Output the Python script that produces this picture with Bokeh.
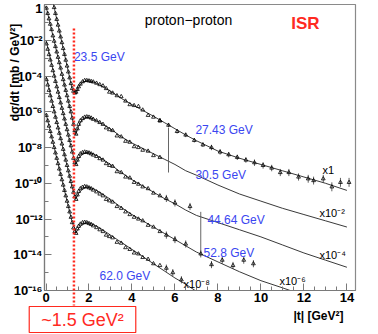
import math
from bokeh.plotting import figure
from bokeh.models import (Label, FixedTicker, SingleIntervalTicker,
                          CustomJSTickFormatter, Range1d)
from bokeh.embed import file_html
from bokeh.resources import INLINE

# ---------------- data (log10 of dsigma/dt in mb/GeV^2, already scaled) ----------------
t_grid = [0.02, 0.08, 0.14, 0.20, 0.26, 0.32, 0.38, 0.44, 0.50, 0.56, 0.62, 0.68, 0.74, 0.80,
          0.86, 0.92, 0.98, 1.04, 1.10, 1.16, 1.22, 1.28, 1.34,
          1.40, 1.46, 1.52, 1.60, 1.70, 1.80, 1.90, 2.00, 2.10, 2.20, 2.35, 2.50, 2.65, 2.80,
          2.95, 3.10, 3.30, 3.50, 3.70, 3.90, 4.10, 4.30, 4.50, 4.75, 5.00, 5.30]

ds_23_5 = [1.79, 1.46, 1.14, 0.81, 0.48, 0.16, -0.17, -0.50, -0.83, -1.15, -1.48, -1.81, -2.13,
           -2.46, -2.79, -3.11, -3.44, -3.77, -4.10, -4.42, -4.70, -4.85, -4.95,
           -4.90, -4.75, -4.60, -4.45, -4.32, -4.25, -4.25, -4.27, -4.30, -4.33, -4.40, -4.48,
           -4.55, -4.70, -4.90, -4.95, -5.10, -5.15, -5.40, -5.60, -5.65, -5.70, -5.90, -6.20,
           -6.30, -6.50]
ds_30_5 = [-0.20, -0.50, -0.80, -1.10, -1.40, -1.75, -2.05, -2.35, -2.65, -2.95, -3.25, -3.55,
           -3.90, -4.20, -4.50, -4.80, -5.10, -5.40, -5.70, -6.00, -6.35, -6.70, -7.05,
           -7.25, -6.95, -6.70, -6.50, -6.38, -6.30, -6.28, -6.30, -6.35, -6.42, -6.50, -6.60,
           -6.70, -6.90, -7.00, -7.05, -7.35, -7.40, -7.65, -7.70, -7.95, -8.00, -8.15, -8.20,
           -8.45, -8.55]
ds_44_64 = [-2.20, -2.50, -2.80, -3.10, -3.40, -3.70, -4.00, -4.30, -4.60, -4.90, -5.20, -5.50,
            -5.80, -6.10, -6.40, -6.70, -7.00, -7.30, -7.60, -7.90, -8.25, -8.60, -8.85,
            -8.95, -8.70, -8.50, -8.35, -8.28, -8.25, -8.27, -8.30, -8.35, -8.42, -8.50, -8.62,
            -8.70, -8.90, -9.00, -9.05, -9.35, -9.40, -9.65, -9.70, -9.95, -10.05, -10.20,
            -10.30, -10.55, -10.70]
ds_52_8 = [-4.20, -4.50, -4.80, -5.10, -5.40, -5.70, -6.00, -6.30, -6.60, -6.90, -7.20, -7.50,
           -7.80, -8.10, -8.40, -8.70, -9.00, -9.30, -9.60, -9.90, -10.20, -10.50, -10.75,
           -10.90, -10.65, -10.45, -10.30, -10.22, -10.18, -10.20, -10.25, -10.30, -10.38,
           -10.48, -10.60, -10.70, -10.90, -10.98, -11.05, -11.30, -11.40, -11.60, -11.75,
           -11.90, -12.00, -12.10, -12.35, -12.45, -12.70]
ds_62_0 = [-6.20, -6.50, -6.80, -7.10, -7.40, -7.70, -8.00, -8.30, -8.60, -8.90, -9.20, -9.50,
           -9.80, -10.10, -10.40, -10.70, -11.00, -11.30, -11.60, -11.90, -12.20, -12.50, -12.70,
           -12.80, -12.55, -12.40, -12.28, -12.20, -12.18, -12.20, -12.25, -12.30, -12.38,
           -12.48, -12.60, -12.70, -12.90, -12.98, -13.05, -13.30, -13.35, -13.60, -13.70,
           -13.90, -13.95, -14.15, -14.25, -14.50, -14.60]

# large |t| data (27.43 GeV, x1)
t_27 = [5.3, 5.7, 6.1, 6.5, 6.9, 7.3, 7.7, 8.1, 8.5, 8.9, 9.3, 9.7, 10.1, 10.5, 10.9, 11.3,
        11.75, 12.2, 12.45, 12.9, 13.3, 13.7, 14.1]
ds_27_43 = [-6.50, -6.75, -7.10, -7.30, -7.60, -7.85, -8.00, -8.25, -8.40, -8.55, -8.70, -8.85,
            -9.00, -9.15, -9.40, -9.40, -9.65, -9.75, -9.85, -9.75, -10.20, -9.95, -9.95]
err_27 = [0.10, 0.12, 0.12, 0.12, 0.12, 0.12, 0.15, 0.15, 0.15, 0.15, 0.15, 0.18, 0.18, 0.18,
          0.20, 0.20, 0.20, 0.22, 0.22, 0.22, 0.25, 0.25, 0.25]

# tails with error bars
t_tail_44 = [5.6, 6.0, 6.7]
ds_tail_44 = [-10.85, -11.10, -11.30]
t_tail_52 = [5.6, 6.0, 6.5, 7.2, 7.7, 8.2, 8.7, 9.2, 9.65]
ds_tail_52 = [-12.90, -13.15, -13.40, -13.95, -14.55, -14.30, -14.60, -14.30, -14.50]
t_tail_62 = [5.6, 5.9, 6.3]
ds_tail_62 = [-14.75, -15.00, -15.40]
err_tail = 0.2
# long error bars
t_long = [5.7, 7.2]
long_lo = [-9.40, -14.00]
long_hi = [-6.90, -11.60]

# theory curves (log10, scaled)
c_t = [0, 0.4, 0.8, 1.2, 1.3, 1.38, 1.5, 1.65, 1.9, 2.2, 2.5, 3, 3.5, 4, 4.5, 5, 5.5, 6, 6.5,
       7, 8, 9, 10, 11, 12, 13, 14.0]
c_23_5 = [1.9, -0.28, -2.46, -4.64, -4.9, -5.0, -4.65, -4.4, -4.25, -4.32, -4.5, -4.85, -5.25,
          -5.6, -5.92, -6.25, -6.6, -6.95, -7.3, -7.62, -8.2, -8.6, -8.95, -9.3, -9.65, -10.0,
          -10.4]
c_30_5 = [-0.1, -2.15, -4.2, -6.25, -6.85, -7.3, -6.85, -6.5, -6.3, -6.4, -6.6, -6.95, -7.4,
          -7.75, -8.05, -8.35, -8.65, -8.95, -9.3, -9.55, -10.1, -10.6, -11.0, -11.4, -11.75,
          -12.1, -12.45]
c_44_64 = [-2.0, -4.05, -6.1, -8.15, -8.6, -8.95, -8.65, -8.42, -8.27, -8.35, -8.55, -8.95,
           -9.4, -9.8, -10.15, -10.5, -10.85, -11.15, -11.5, -11.8, -12.2, -12.6, -13.0,
           -13.45, -13.9, -14.3, -14.7]
c4_t = [0, 0.4, 0.8, 1.2, 1.3, 1.38, 1.5, 1.65, 1.9, 2.2, 2.5, 3, 3.5, 4, 4.5, 5, 5.5, 6, 6.5,
        7, 8, 9, 10, 11, 11.6]
c_52_8 = [-4.0, -6.05, -8.1, -10.15, -10.55, -10.9, -10.6, -10.38, -10.2, -10.3, -10.5, -10.9,
          -11.35, -11.75, -12.1, -12.45, -12.8, -13.15, -13.5, -13.85, -14.4, -14.95, -15.45,
          -15.85, -16.1]
c5_t = [0, 0.4, 0.8, 1.2, 1.3, 1.38, 1.5, 1.65, 1.9, 2.2, 2.5, 3, 3.5, 4, 4.5, 5, 5.5, 6, 6.5,
        7.0]
c_62_0 = [-6.1, -8.1, -10.1, -12.1, -12.45, -12.8, -12.55, -12.35, -12.2, -12.3, -12.5, -12.9,
          -13.3, -13.7, -14.1, -14.5, -14.9, -15.3, -15.65, -16.05]

dip_t = 1.3  # position of the red marker line (|t| in GeV^2)

# labels
energy_labels = ["23.5 GeV", "27.43 GeV", "30.5 GeV", "44.64 GeV", "52.8 GeV", "62.0 GeV"]
scale_labels = ["x1", "x10\u207b\u00b2", "x10\u207b\u2074", "x10\u207b\u2076", "x10\u207b\u2078"]


def pw(v):
    return [10.0 ** x for x in v]


FONT = "Liberation Sans"
BLUE = "#3a46f0"
RED = "#ff2a1f"

W, H = 370, 334
BL, BR, BT, BB = 44, 15, 4, 44
X0, X1 = -0.07, 14.4

p = figure(width=W, height=H, x_range=Range1d(X0, X1), y_range=Range1d(1e-16, 1.0),
           y_axis_type="log", output_backend="svg", toolbar_location=None,
           min_border_left=BL, min_border_right=BR, min_border_top=BT, min_border_bottom=BB)
p.grid.visible = False
p.outline_line_color = "#8a8a8a"
p.outline_line_width = 1.2
p.background_fill_color = "white"
p.border_fill_color = "white"

# axes
p.xaxis.ticker = SingleIntervalTicker(interval=2, num_minor_ticks=4)
p.yaxis.ticker = FixedTicker(ticks=[10.0 ** (-k) for k in range(0, 17, 2)],
                             minor_ticks=[10.0 ** (-k) for k in range(1, 17, 2)])
p.yaxis.formatter = CustomJSTickFormatter(code="""
const e = Math.round(Math.log10(tick));
if (e === 0) { return "1"; }
const sup = {"-": "\\u207b", "0": "\\u2070", "1": "\\u00b9", "2": "\\u00b2", "3": "\\u00b3",
             "4": "\\u2074", "5": "\\u2075", "6": "\\u2076", "7": "\\u2077", "8": "\\u2078", "9": "\\u2079"};
let s = "";
for (const c of String(e)) { s += sup[c]; }
return "10" + s;
""")
for ax in (p.xaxis, p.yaxis):
    ax.axis_line_color = "#7a7a7a"
    ax.axis_line_width = 1.2
    ax.major_tick_line_color = "#7a7a7a"
    ax.minor_tick_line_color = "#7a7a7a"
    ax.major_tick_in = 7
    ax.major_tick_out = 0
    ax.minor_tick_in = 4
    ax.minor_tick_out = 0
    ax.major_label_text_font = FONT
    ax.major_label_text_font_style = "bold"
    ax.major_label_text_font_size = "13px"
    ax.major_label_text_color = "black"
p.yaxis.major_label_standoff = 2
p.xaxis.major_label_standoff = 2

# theory curves
line_kw = dict(line_color="#222222", line_width=0.9)
p.line(c_t, pw(c_23_5), **line_kw)
p.line(c_t, pw(c_30_5), **line_kw)
p.line(c_t, pw(c_44_64), **line_kw)
p.line(c4_t, pw(c_52_8), **line_kw)
p.line(c5_t, pw(c_62_0), **line_kw)


# error bars
def err_segments(ts, vals, errs):
    lo = [10.0 ** (v - e) for v, e in zip(vals, errs)]
    hi = [10.0 ** (v + e) for v, e in zip(vals, errs)]
    p.segment(x0=ts, y0=lo, x1=ts, y1=hi, line_color="#333333", line_width=0.8)


err_segments(t_27, ds_27_43, err_27)
err_segments(t_tail_44, ds_tail_44, [err_tail] * len(t_tail_44))
err_segments(t_tail_52, ds_tail_52, [err_tail] * len(t_tail_52))
err_segments(t_tail_62, ds_tail_62, [err_tail] * len(t_tail_62))
p.segment(x0=t_long, y0=pw(long_lo), x1=t_long, y1=pw(long_hi), line_color="#555555",
          line_width=0.9)

# data points
mk = dict(marker="triangle", size=3.8, fill_color=None, line_color="black", line_width=0.8)
for d in (ds_23_5, ds_30_5, ds_44_64, ds_52_8, ds_62_0):
    p.scatter(t_grid, pw(d), **mk)
p.scatter(t_27, pw(ds_27_43), **mk)
p.scatter(t_tail_44, pw(ds_tail_44), **mk)
p.scatter(t_tail_52, pw(ds_tail_52), **mk)
p.scatter(t_tail_62, pw(ds_tail_62), **mk)


def txt(fig, x, y, s, color="black", size="12px", style="normal", align="left", angle=0.0,
        baseline="middle", **kw):
    fig.add_layout(Label(x=x, y=y, text=s, text_color=color, text_font_size=size,
                         text_font=FONT, text_font_style=style, text_align=align,
                         text_baseline=baseline, angle=angle, **kw))


# texts inside the frame (data coordinates)
txt(p, 6.63, 10 ** -0.89, "proton\u2212proton", size="14px", align="center")
txt(p, 12.07, 10 ** -1.06, "ISR", color=RED, size="17px", style="bold", align="center")

energy_pos = [(1.30, -2.96), (6.95, -7.04), (6.95, -9.55), (7.51, -12.07), (7.33, -13.91),
              (2.49, -15.2)]
for (x, ly), s in zip(energy_pos, energy_labels):
    txt(p, x, 10 ** ly, s, color=BLUE, size="12px")

scale_pos = [(12.86, -9.27), (12.72, -11.68), (12.72, -14.02), (10.86, -15.47), (6.40, -15.64)]
for (x, ly), s in zip(scale_pos, scale_labels):
    txt(p, x, 10 ** ly, s, size="11px")

# transparent overlay (pixel coordinates) for items outside the frame, as its own root
ov = figure(width=W, height=H, x_range=Range1d(0, W), y_range=Range1d(H, 0),
            x_axis_location=None, y_axis_location=None,
            output_backend="svg", toolbar_location=None,
            min_border_left=0, min_border_right=0, min_border_top=0, min_border_bottom=0)
ov.grid.visible = False
ov.outline_line_color = None
ov.background_fill_color = None
ov.border_fill_color = None
ov.margin = (-H, 0, 0, 0)

# red dotted line at |t| = dip_t, mapped through the main frame's scale
px_dip = BL + (dip_t - X0) / (X1 - X0) * (W - BL - BR)
ov.segment(x0=[px_dip], y0=[28], x1=[px_dip], y1=[305], line_color=RED, line_width=2.5,
           line_dash="2 2")

txt(ov, 14, 72, "d\u03c3/dt [mb / GeV\u00b2]", size="12px", style="bold", align="center",
    angle=math.pi / 2)
txt(ov, 318, 315, "|t| [GeV\u00b2]", size="12px", style="bold", align="center")
txt(ov, 82, 319, "~1.5 GeV\u00b2", color=RED, size="18px", align="center",
    border_line_color=RED, border_line_width=1.2, background_fill_color="white",
    padding=(12, 3))

open("out.html", "w").write(file_html([p, ov], INLINE))
